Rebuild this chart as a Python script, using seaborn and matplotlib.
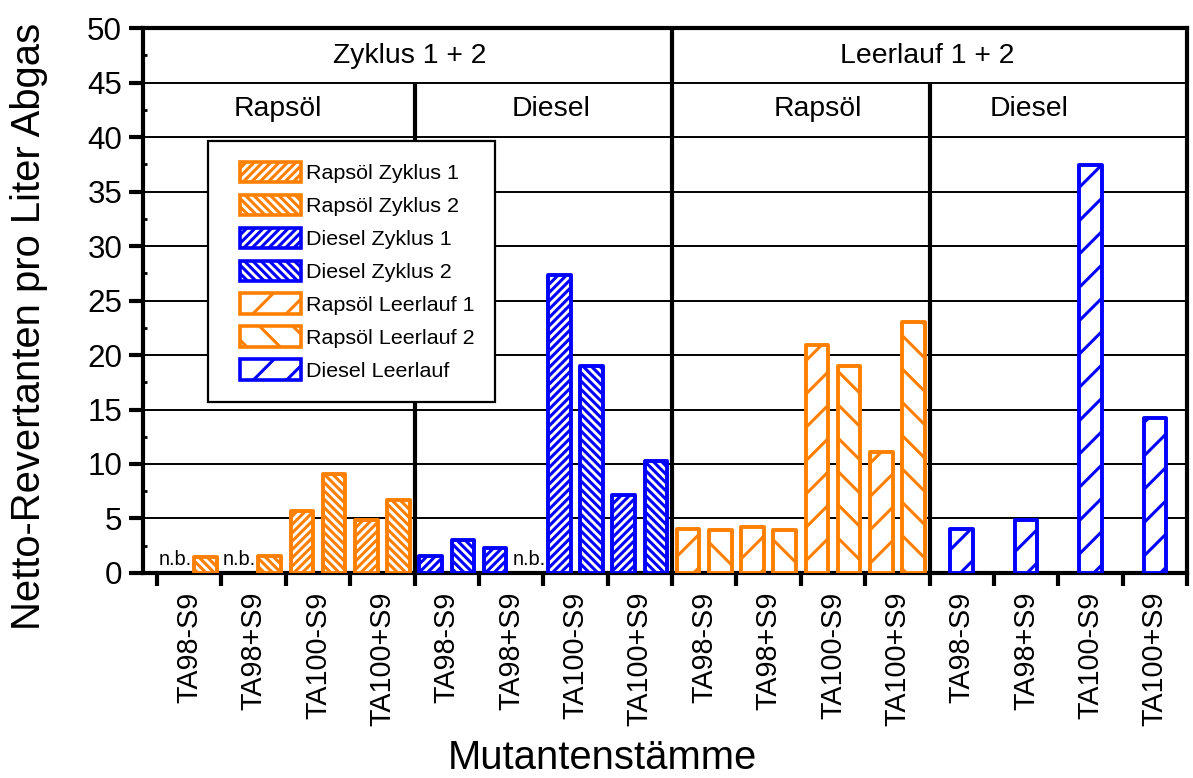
import numpy as np
import pandas as pd
import seaborn as sns
import matplotlib
matplotlib.use("Agg")
import matplotlib.pyplot as plt
from matplotlib.patches import Patch, Rectangle
from matplotlib.legend_handler import HandlerPatch

plt.rcParams['font.family'] = ['Liberation Sans', 'DejaVu Sans']
plt.rcParams['hatch.linewidth'] = 1.1

# Daten (None = n.b., nicht bestimmt)
stamm = ["TA98-S9", "TA98+S9", "TA100-S9", "TA100+S9"]
rapsoel_zyklus1 = [None, None, 5.7, 4.9]
rapsoel_zyklus2 = [1.5, 1.6, 9.1, 6.7]
diesel_zyklus1 = [1.6, 2.3, 27.3, 7.2]
diesel_zyklus2 = [3.0, None, 19.0, 10.3]
rapsoel_leerlauf1 = [4.0, 4.2, 20.9, 11.1]
rapsoel_leerlauf2 = [3.9, 3.9, 19.0, 23.0]
diesel_leerlauf = [4.0, 4.9, 37.4, 14.2]

ORANGE = "#FF8000"
BLUE = "#0000FF"
DICHT_L, DICHT_R = "/" * 8, "\\" * 8
WEIT_L, WEIT_R = "//", "\\\\"
styles = {
    "Rapsöl Zyklus 1": (ORANGE, DICHT_L),
    "Rapsöl Zyklus 2": (ORANGE, DICHT_R),
    "Diesel Zyklus 1": (BLUE, DICHT_L),
    "Diesel Zyklus 2": (BLUE, DICHT_R),
    "Rapsöl Leerlauf 1": (ORANGE, WEIT_L),
    "Rapsöl Leerlauf 2": (ORANGE, WEIT_R),
    "Diesel Leerlauf": (BLUE, WEIT_L),
}

blocks = [("Zyklus", "Rapsöl", [("1", "Rapsöl Zyklus 1", rapsoel_zyklus1), ("2", "Rapsöl Zyklus 2", rapsoel_zyklus2)]),
          ("Zyklus", "Diesel", [("1", "Diesel Zyklus 1", diesel_zyklus1), ("2", "Diesel Zyklus 2", diesel_zyklus2)]),
          ("Leerlauf", "Rapsöl", [("1", "Rapsöl Leerlauf 1", rapsoel_leerlauf1), ("2", "Rapsöl Leerlauf 2", rapsoel_leerlauf2)]),
          ("Leerlauf", "Diesel", [("0", "Diesel Leerlauf", diesel_leerlauf)])]

keys, ticklabels, rows, nb = [], [], [], []
for zyk, fuel, series in blocks:
    for j, st in enumerate(stamm):
        key = f"{zyk} {fuel} {st}"
        keys.append(key)
        ticklabels.append(st)
        for slot, name, vals in series:
            if vals[j] is None:
                nb.append((len(keys) - 1, slot))
            else:
                rows.append({"key": key, "slot": slot, "serie": name, "wert": vals[j]})
df = pd.DataFrame(rows)
paar = df[df["slot"] != "0"]
einzel = df[df["slot"] == "0"]

# Schmale Schrift (Arial Narrow) fehlt -> normale Schrift etwas kleiner
S = 0.84

fig = plt.figure(figsize=(5.965, 3.89), dpi=200)
ax = fig.add_axes([0.1199, 0.2635, 0.8751, 0.7005])

sns.barplot(data=paar, x="key", y="wert", hue="slot", order=keys, hue_order=["1", "2"],
            palette={"1": "white", "2": "white"}, width=1.0, gap=0.3, errorbar=None,
            legend=False, ax=ax)
sns.barplot(data=einzel, x="key", y="wert", order=keys, color="white", width=0.35,
            errorbar=None, ax=ax)

lookup = {(keys.index(r.key), r.slot): r.serie for r in df.itertuples()}
for bar in ax.patches:
    if not np.isfinite(bar.get_height()):
        continue
    cx = bar.get_x() + bar.get_width() / 2
    i = int(round(cx))
    off = cx - i
    slot = "0" if abs(off) < 0.1 else ("1" if off < 0 else "2")
    color, hatch = styles[lookup[(i, slot)]]
    bar.set_facecolor("white")
    bar.set_edgecolor(color)
    bar.set_hatch(hatch)
    bar.set_linewidth(1.4)
    bar.set_joinstyle("round")
    bar.set_zorder(3)

for i, slot in nb:
    ax.text(i + (-0.25 if slot == "1" else 0.25) + 0.03, 0.7, "n.b.", ha="center", va="baseline",
            fontsize=8.6 * S)

# Achsen
ax.set_ylim(0, 50)
ax.set_xlim(-0.717, 15.5)
ax.set_yticks(np.arange(0, 51, 5))
ax.set_yticks(np.arange(2.5, 50, 5), minor=True)
ax.set_xticks(np.arange(-0.5, 16, 1))
ax.set_xticklabels([])
ax.set_xticks(np.arange(16), minor=True)
ax.set_xticklabels(ticklabels, minor=True, rotation=90, fontsize=12.3 * S)
ax.tick_params(axis="x", which="major", direction="out", length=4.5, width=1.5)
ax.tick_params(axis="x", which="minor", length=0, pad=6.8)
ax.tick_params(axis="y", which="major", direction="out", length=5, width=1.5, labelsize=11.3, pad=2.5)
ax.tick_params(axis="y", which="minor", direction="in", length=1.5, width=1)
for s in ax.spines.values():
    s.set_linewidth(1.5)
ax.yaxis.grid(True, color="k", lw=0.7)
ax.set_axisbelow(True)

# Trennlinien und Überschriften
ax.vlines([3.5, 11.5], 0, 45, colors="k", lw=1.5, zorder=2.5)
ax.vlines([7.5], 0, 50, colors="k", lw=1.5, zorder=2.5)
kopf = dict(ha="center", va="center", fontsize=12.2 * S)
ax.text(3.43, 47.4, "Zyklus 1 + 2", **kopf)
ax.text(11.46, 47.4, "Leerlauf 1 + 2", **kopf)
ax.text(1.38, 42.6, "Rapsöl", **kopf)
ax.text(5.62, 42.6, "Diesel", **kopf)
ax.text(9.77, 42.6, "Rapsöl", **kopf)
ax.text(13.05, 42.6, "Diesel", **kopf)

ax.set_ylabel("Netto-Revertanten pro Liter Abgas", fontsize=14.4)
ax.yaxis.set_label_coords(-0.091, 0.453)
ax.set_xlabel("Mutantenstämme", fontsize=14.4)
ax.xaxis.set_label_coords(0.44, -0.305)


# Legende: Kästchen etwas nach rechts eingerückt
def kaestchen(legend, orig_handle, xdescent, ydescent, width, height, fontsize):
    return Rectangle((-xdescent + 0.15 * width, -ydescent), 0.85 * width, height)


leg_pt = 9.2 * S
fs = leg_pt * 200 / 72  # Schriftgröße in Pixel
handles = [Patch(facecolor="white", edgecolor=c, hatch=h, lw=1.3, label=n) for n, (c, h) in styles.items()]
leg = ax.legend(handles=handles, loc="upper left", bbox_to_anchor=(0.062, 0.793), borderaxespad=0,
                fancybox=False, framealpha=1, edgecolor="k", fontsize=leg_pt,
                handlelength=72 / fs, handleheight=23 / fs, handletextpad=5 / fs,
                labelspacing=11.5 / fs, borderpad=21 / fs,
                handler_map={Patch: HandlerPatch(patch_func=kaestchen)})
leg.get_frame().set_linewidth(0.8)
leg.set_zorder(5)

fig.savefig("out.png", dpi=200)
